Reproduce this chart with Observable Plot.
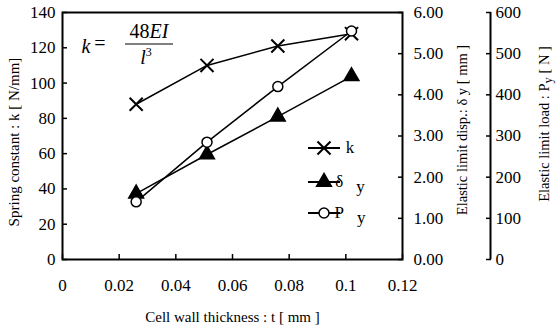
<!DOCTYPE html>
<html>
<head>
<meta charset="utf-8">
<script src="https://cdn.jsdelivr.net/npm/d3@7"></script>
<script src="https://cdn.jsdelivr.net/npm/@observablehq/plot@0.6"></script>
<style>
  html, body { margin: 0; padding: 0; background: #fff; }
  svg { display: block; }
  svg text { font-family: 'Liberation Serif', 'Times New Roman', serif; }
</style>
</head>
<body>
<div id="chart"></div>
<script>
// ---- data ----
const thickness = [0.026, 0.051, 0.076, 0.102];   // t [mm]
const springK   = [88, 110, 121, 128];            // k [N/mm]
const dispY     = [1.60, 2.55, 3.47, 4.45];       // δy [mm]
const loadP     = [140, 285, 420, 555];           // Py [N]

const xTicks    = [0, 0.02, 0.04, 0.06, 0.08, 0.1, 0.12];
const kTicks    = [0, 20, 40, 60, 80, 100, 120, 140];
const dispTicks = [0, 1, 2, 3, 4, 5, 6];
const loadTicks = [0, 100, 200, 300, 400, 500, 600];

const xTitle    = "Cell wall thickness : t [ mm ]";
const kTitle    = "Spring constant : k [ N/mm]";
const dispTitle = ["Elastic limit disp.: δ y [ mm ]"];
const loadTitle = ["Elastic limit load : P", "y", " [ N ]"];

// secondary axes are mapped onto the k scale (0–140)
const kMax = 140;
const dispToK = kMax / dispTicks[dispTicks.length - 1];
const loadToK = kMax / loadTicks[loadTicks.length - 1];

const rows = thickness.map((t, i) => ({
  t, k: springK[i], d: dispY[i] * dispToK, p: loadP[i] * loadToK
}));

const serif = "'Liberation Serif', 'Times New Roman', serif";
const fmtX = d => d === 0 ? "0" : String(+d.toFixed(2));
const ax = { label: null, strokeWidth: 1.5, fontSize: 17, fontFamily: serif, fontVariant: "normal" };

const svg = Plot.plot({
  width: 560,
  height: 328,
  marginLeft: 62,
  marginRight: 158,
  marginTop: 12,
  marginBottom: 69,
  style: { fontFamily: serif, fontSize: "17px", color: "#000", background: "#fff", overflow: "visible" },
  x: { domain: [0, 0.12] },
  y: { domain: [0, kMax] },
  marks: [
    Plot.frame({ stroke: "#000", strokeWidth: 2 }),
    Plot.axisX(xTicks, { ...ax, anchor: "bottom", tickSize: -5, tickPadding: 24, tickFormat: fmtX }),
    Plot.axisY(kTicks, { ...ax, anchor: "left", tickSize: -5, tickPadding: 12 }),
    Plot.axisY(dispTicks.map(v => v * dispToK), {
      ...ax, anchor: "right", tickSize: -5, tickPadding: 16,
      tickFormat: d => (d / dispToK).toFixed(2)
    }),
    Plot.axisY(loadTicks.map(v => v * loadToK), {
      ...ax, anchor: "right", dx: 88, tickSize: -5, tickPadding: 10,
      tickFormat: d => String(Math.round(d / loadToK))
    }),
    Plot.ruleX([0.12], { dx: 88, stroke: "#000", strokeWidth: 2 }),
    Plot.text([xTitle], { frameAnchor: "bottom", dy: 62, fontSize: 15, fontFamily: serif, text: d => d }),
    // series
    Plot.line(rows, { x: "t", y: "k", stroke: "#000", strokeWidth: 1.5 }),
    Plot.line(rows, { x: "t", y: "d", stroke: "#000", strokeWidth: 1.5 }),
    Plot.line(rows, { x: "t", y: "p", stroke: "#000", strokeWidth: 1.5 }),
    Plot.dot(rows, { x: "t", y: "k", symbol: "times", r: 6, stroke: "#000", strokeWidth: 2 }),
    Plot.dot(rows, { x: "t", y: "d", symbol: "triangle", r: 5.5, fill: "#000", stroke: "#000" }),
    Plot.dot(rows, { x: "t", y: "p", symbol: "circle", r: 5, fill: "#fff", stroke: "#000", strokeWidth: 1.5 })
  ]
});

document.getElementById("chart").append(svg);
const s = d3.select(svg);

// ---- rotated axis titles ----
function vtitle(x, y, size, parts) {
  const t = s.append("text")
    .attr("transform", `translate(${x},${y}) rotate(-90)`)
    .attr("text-anchor", "middle")
    .attr("dominant-baseline", "central")
    .attr("font-family", serif)
    .attr("font-size", size)
    .attr("fill", "#000");
  parts.forEach((p, i) => {
    const ts = t.append("tspan").text(p);
    if (parts.length === 3 && i === 1) ts.attr("dy", 4).attr("font-size", size - 2);
    if (parts.length === 3 && i === 2) ts.attr("dy", -4);
  });
}
vtitle(14, 142, 15, [kTitle]);
vtitle(462, 130, 14.5, dispTitle);
vtitle(544, 124, 14.5, loadTitle);

// ---- legend (inside plot) ----
const legendItems = [
  { label: "k", sub: "", symbol: d3.symbolTimes, r: 6, fill: "none", stroke: "#000" },
  { label: "δ", sub: "y", symbol: d3.symbolTriangle, r: 5.5, fill: "#000", stroke: "#000" },
  { label: "P", sub: "y", symbol: d3.symbolCircle, r: 5, fill: "#fff", stroke: "#000" }
];
const legendY = [148, 182, 213];
const lg = s.append("g").attr("font-family", serif).attr("font-size", 17);
legendItems.forEach((it, i) => {
  const g = lg.append("g").attr("transform", `translate(308,${legendY[i]})`);
  g.append("line").attr("x1", 0).attr("x2", 32).attr("stroke", "#000").attr("stroke-width", 2);
  g.append("path").attr("transform", "translate(16,0)")
    .attr("d", d3.symbol(it.symbol, Math.PI * it.r * it.r)())
    .attr("fill", it.fill).attr("stroke", it.stroke).attr("stroke-width", it.symbol === d3.symbolTimes ? 2 : 1.5);
  const t = g.append("text").attr("x", 42).attr("y", 5);
  t.append("tspan").text(it.label);
  if (it.sub) t.append("tspan").attr("dx", 13).attr("dy", 5).text(it.sub);
});

// ---- formula annotation ----
const eq = s.append("g").attr("font-family", serif).attr("font-size", 20);
eq.append("text").attr("x", 86).attr("y", 53).attr("font-style", "italic").text("k");
eq.append("text").attr("x", 100).attr("y", 50).text("=");
const num = eq.append("text").attr("x", 149).attr("y", 38).attr("text-anchor", "middle");
num.append("tspan").text("48");
num.append("tspan").attr("font-style", "italic").text("EI");
eq.append("line").attr("x1", 125).attr("x2", 173).attr("y1", 44).attr("y2", 44).attr("stroke", "#000").attr("stroke-width", 1);
const den = eq.append("text").attr("x", 146).attr("y", 64).attr("text-anchor", "middle");
den.append("tspan").attr("font-style", "italic").text("l");
den.append("tspan").attr("font-size", 12).attr("dy", -8).text("3");
</script>
</body>
</html>
